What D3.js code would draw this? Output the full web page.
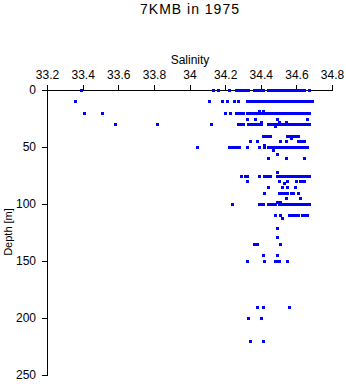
<!DOCTYPE html>
<html><head><meta charset="utf-8">
<script src="https://cdn.jsdelivr.net/npm/d3@7"></script>
<style>body{margin:0;background:#fff}text{font-family:"Liberation Sans",Arial,sans-serif;fill:#000}</style>
</head><body><svg id="c" width="346" height="384"></svg>
<script>
const title = "7KMB in 1975";
const xLabel = "Salinity";
const yLabel = "Depth [m]";
const xTicks = [33.2,33.4,33.6,33.8,34,34.2,34.4,34.6,34.8];
const yTicks = [0,50,100,150,200,250];
const depths = [0,10,18,20,25,28,30,32,40,42,45,48,50,53,56,60,72,75,80,82,85,90,95,98,100,110,112,121,129,135,145,150,190,200,220];
const s0 = [33.39,34.13,34.16,34.22,34.26,34.27,34.28,34.29,34.30,34.31,34.32,34.33,34.36,34.38,34.39,34.40,34.41,34.44,34.45,34.46,34.47,34.48,34.49,34.50,34.51,34.52,34.53,34.54,34.55,34.56,34.57,34.58,34.59,34.60,34.61,34.62,34.63,34.64,34.67];
const s10 = [33.36,34.11,34.18,34.21,34.25,34.27,34.32,34.33,34.34,34.35,34.36,34.37,34.38,34.39,34.40,34.41,34.42,34.43,34.44,34.45,34.46,34.47,34.48,34.49,34.50,34.51,34.52,34.53,34.54,34.55,34.56,34.57,34.58,34.59,34.60,34.61,34.62,34.63,34.64,34.65,34.66,34.67,34.69];
const s18 = [34.39,34.41];
const s20 = [33.41,33.51,34.20,34.23,34.26,34.27,34.28,34.29,34.30,34.32,34.33,34.34,34.35,34.36,34.37,34.38,34.39,34.40,34.41,34.42,34.43,34.44,34.45,34.46,34.47,34.48,34.49,34.50,34.51,34.52,34.53,34.54,34.55,34.56,34.57,34.58,34.59,34.60,34.61,34.62,34.63,34.64,34.65,34.66,34.67];
const s25 = [34.32,34.37,34.49,34.66];
const s28 = [34.40,34.50,34.54];
const s30 = [33.58,33.82,34.12,34.27,34.28,34.29,34.30,34.33,34.34,34.35,34.36,34.37,34.38,34.39,34.40,34.44,34.45,34.46,34.47,34.48,34.49,34.50,34.51,34.52,34.53,34.54,34.55,34.56,34.57,34.58,34.59,34.60,34.61,34.62,34.63,34.64,34.65,34.66,34.67];
const s32 = [34.48];
const s40 = [34.41,34.42,34.43,34.44,34.45,34.55,34.56,34.57,34.58,34.59,34.61];
const s42 = [34.57];
const s45 = [34.34,34.38,34.51,34.54,34.61,34.62,34.63,34.64];
const s48 = [34.42];
const s50 = [34.04,34.22,34.23,34.24,34.25,34.26,34.27,34.28,34.32,34.39,34.42,34.44,34.46,34.47,34.48,34.49,34.50,34.51,34.52,34.53,34.54,34.55,34.56,34.57,34.58,34.59,34.60,34.61,34.62,34.63,34.64,34.66];
const s53 = [34.47];
const s56 = [34.49];
const s60 = [34.44,34.54,34.64];
const s72 = [34.49];
const s75 = [34.29,34.31,34.32,34.39,34.42,34.43,34.44,34.45,34.49,34.50,34.51,34.52,34.53,34.54,34.55,34.56,34.57,34.58,34.59,34.60,34.61,34.62,34.63,34.64,34.65,34.66,34.67];
const s80 = [34.32,34.50,34.55,34.60,34.62,34.63,34.64];
const s82 = [34.53];
const s85 = [34.44,34.52,34.55,34.59];
const s90 = [34.42,34.50,34.51,34.52,34.53,34.54,34.55,34.57,34.58,34.61];
const s95 = [34.54,34.62];
const s98 = [34.49,34.50,34.51];
const s100 = [34.24,34.39,34.40,34.41,34.44,34.45,34.46,34.47,34.48,34.50,34.51,34.52,34.53,34.54,34.55,34.56,34.57,34.58,34.59,34.60,34.61,34.62,34.63,34.64,34.65,34.66,34.67];
const s110 = [34.48,34.51,34.56,34.57,34.58,34.59,34.61,34.63,34.64,34.65,34.66];
const s112 = [34.52];
const s121 = [34.49];
const s129 = [34.49];
const s135 = [34.36,34.38,34.51];
const s145 = [34.41,34.49];
const s150 = [34.32,34.42,34.48,34.49,34.50,34.55];
const s190 = [34.38,34.41,34.56];
const s200 = [34.33,34.40];
const s220 = [34.34,34.41];
const salinities = [s0,s10,s18,s20,s25,s28,s30,s32,s40,s42,s45,s48,s50,s53,s56,s60,s72,s75,s80,s82,s85,s90,s95,s98,s100,s110,s112,s121,s129,s135,s145,s150,s190,s200,s220];

const svg = d3.select("#c");
const x = d3.scaleLinear().domain([33.2,34.8]).range([47,332]);
const y = d3.scaleLinear().domain([0,250]).range([90,375]);

const pts = [];
depths.forEach((d,i)=>salinities[i].forEach(s=>pts.push({d,s})));

const xa = svg.append("g").attr("transform","translate(0,90)")
  .call(d3.axisTop(x).tickValues(xTicks).tickSize(5).tickFormat(d=>d3.format("")(+d.toFixed(1))));
const ya = svg.append("g").attr("transform","translate(47,0)")
  .call(d3.axisLeft(y).tickValues(yTicks).tickSize(5).tickPadding(6));
[xa,ya].forEach(a=>{
  a.select(".domain").attr("stroke","#000").attr("shape-rendering","crispEdges");
  a.selectAll(".tick line").attr("stroke","#000").attr("shape-rendering","crispEdges");
  a.selectAll("text").attr("font-size",12).attr("fill","#000").attr("font-family","Liberation Sans, Arial, sans-serif");
});
xa.attr("font-size",12);
ya.attr("font-size",12);
xa.selectAll(".tick text").attr("dy",0).attr("y",-11);

svg.append("g").selectAll("rect").data(pts).join("rect")
  .attr("x",p=>Math.round(x(p.s))-1).attr("y",p=>Math.round(y(p.d))-1)
  .attr("width",3).attr("height",3).attr("fill","#0000ff").attr("shape-rendering","crispEdges");

svg.append("text").attr("x",190).attr("y",14).attr("text-anchor","middle")
  .attr("font-size",14).attr("letter-spacing",1).text(title);
svg.append("text").attr("x",190).attr("y",64).attr("text-anchor","middle")
  .attr("font-size",12).text(xLabel);
svg.append("text").attr("transform","translate(12,232) rotate(-90)").attr("text-anchor","middle")
  .attr("font-size",11).text(yLabel);
</script></body></html>
